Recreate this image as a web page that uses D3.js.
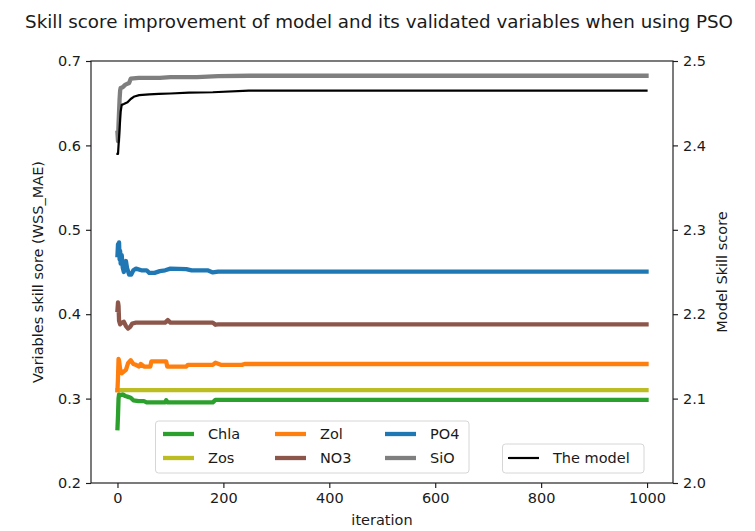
<!DOCTYPE html>
<html>
<head>
<meta charset="utf-8">
<script src="https://cdn.jsdelivr.net/npm/d3@7"></script>
<style>
  body { margin: 0; background: #fff; }
  text { font-family: "DejaVu Sans", sans-serif; fill: #1a1a1a; }
</style>
</head>
<body>
<svg id="chart" width="755" height="531"></svg>
<script>
// values: [iteration, score]
const chla = [[0,0.265],[1,0.28],[2,0.3],[3,0.305],[5,0.304],[10,0.305],[15,0.303],[20,0.302],[25,0.301],[30,0.298],[40,0.297],[50,0.297],[55,0.2955],[90,0.2955],[92,0.298],[95,0.2955],[180,0.2955],[185,0.2985],[999,0.2985]];
const zos = [[0,0.31],[999,0.31]];
const zol = [[0,0.31],[1,0.325],[2,0.347],[3,0.345],[5,0.335],[8,0.33],[12,0.332],[16,0.334],[20,0.342],[25,0.3455],[30,0.341],[35,0.34],[40,0.338],[44,0.341],[50,0.338],[62,0.338],[64,0.344],[92,0.344],[94,0.338],[130,0.338],[133,0.34],[180,0.34],[185,0.3425],[195,0.34],[235,0.34],[240,0.341],[999,0.341]];
const no3 = [[0,0.405],[1,0.414],[2,0.41],[3,0.392],[5,0.388],[8,0.39],[12,0.391],[16,0.386],[20,0.383],[24,0.385],[28,0.389],[35,0.39],[90,0.39],[95,0.393],[100,0.39],[180,0.39],[185,0.3875],[190,0.388],[999,0.388]];
const po4 = [[0,0.47],[1,0.483],[2,0.478],[3,0.485],[4,0.465],[5,0.475],[6,0.46],[8,0.47],[10,0.455],[12,0.45],[14,0.458],[16,0.463],[18,0.455],[22,0.447],[26,0.447],[30,0.452],[35,0.454],[45,0.452],[55,0.452],[60,0.449],[70,0.449],[80,0.451],[90,0.452],[100,0.454],[130,0.4535],[140,0.452],[170,0.452],[180,0.4495],[190,0.4505],[999,0.4505]];
const sio = [[0,0.615],[1,0.605],[2,0.625],[3,0.64],[4,0.655],[5,0.665],[6,0.668],[10,0.669],[15,0.672],[22,0.674],[25,0.679],[40,0.68],[80,0.68],[100,0.681],[150,0.681],[190,0.682],[250,0.6825],[999,0.6825]];
const model = [[0,2.39],[1,2.39],[3,2.41],[6,2.44],[8,2.448],[12,2.449],[19,2.451],[25,2.455],[32,2.458],[41,2.4595],[60,2.4605],[78,2.461],[100,2.4615],[135,2.4625],[180,2.463],[248,2.4648],[999,2.4648]];

const seriesNames = ["Chla", "Zos", "Zol", "NO3", "PO4", "SiO"];
const seriesData = [chla, zos, zol, no3, po4, sio];
const seriesColors = ["#2ca02c", "#bcbd22", "#ff7f0e", "#8c564b", "#1f77b4", "#7f7f7f"];

const xTicks = [0, 200, 400, 600, 800, 1000];
const leftTicks = [0.2, 0.3, 0.4, 0.5, 0.6, 0.7];
const rightTicks = [2.0, 2.1, 2.2, 2.3, 2.4, 2.5];

// layout
const plot = {left: 91, right: 673, top: 61, bottom: 483};
const svg = d3.select("#chart");

const x = d3.scaleLinear().domain([-50, 1049]).range([plot.left, plot.right]);
const y = d3.scaleLinear().domain([0.2, 0.7]).range([plot.bottom, plot.top]);
const y2 = d3.scaleLinear().domain([2.0, 2.5]).range([plot.bottom, plot.top]);

// title
svg.append("text")
  .attr("x", 379)
  .attr("y", 28)
  .attr("text-anchor", "middle")
  .style("font-size", "18.3px")
  .text("Skill score improvement of model and its validated variables when using PSO");

// variable lines
const line = d3.line().x(d => x(d[0])).y(d => y(d[1]));
seriesData.forEach((s, i) => {
  svg.append("path")
    .datum(s)
    .attr("d", line)
    .attr("fill", "none")
    .attr("stroke", seriesColors[i])
    .attr("stroke-width", 4.3)
    .attr("stroke-linejoin", "round")
    .attr("stroke-linecap", "square");
});

// axes
function styleAxis(g) {
  g.selectAll("path.domain").remove();
  g.selectAll(".tick line").attr("stroke", "#1a1a1a").attr("stroke-width", 1.15);
  g.selectAll(".tick text").style("font-size", "14.5px").attr("fill", "#1a1a1a");
}
svg.append("g")
  .attr("transform", `translate(0,${plot.bottom})`)
  .call(d3.axisBottom(x).tickValues(xTicks).tickSize(5).tickPadding(5).tickFormat(d3.format("d")))
  .call(styleAxis);
svg.append("g")
  .attr("transform", `translate(${plot.left},0)`)
  .call(d3.axisLeft(y).tickValues(leftTicks).tickSize(5).tickPadding(5).tickFormat(d3.format(".1f")))
  .call(styleAxis);
svg.append("g")
  .attr("transform", `translate(${plot.right},0)`)
  .call(d3.axisRight(y2).tickValues(rightTicks).tickSize(5).tickPadding(5).tickFormat(d3.format(".1f")))
  .call(styleAxis);

// axis labels
const midY = (plot.top + plot.bottom) / 2;
svg.append("text")
  .attr("x", (plot.left + plot.right) / 2)
  .attr("y", 525)
  .attr("text-anchor", "middle")
  .style("font-size", "14.5px")
  .text("iteration");
svg.append("text")
  .attr("transform", `translate(43,${midY}) rotate(-90)`)
  .attr("text-anchor", "middle")
  .style("font-size", "14.5px")
  .text("Variables skill sore (WSS_MAE)");
svg.append("text")
  .attr("transform", `translate(727,${midY}) rotate(-90)`)
  .attr("text-anchor", "middle")
  .style("font-size", "14.5px")
  .text("Model Skill score");

// legend for variables (3 columns)
const leg = svg.append("g");
leg.append("rect")
  .attr("x", 155.5).attr("y", 421).attr("width", 313.5).attr("height", 52)
  .attr("rx", 3)
  .attr("fill", "#fff").attr("fill-opacity", 0.8)
  .attr("stroke", "#d6d6d6");
const colX = [161, 273, 383];
const rowY = [434, 458];
seriesNames.forEach((name, i) => {
  const cx = colX[Math.floor(i / 2)], cy = rowY[i % 2];
  leg.append("line")
    .attr("x1", cx + 2).attr("x2", cx + 33)
    .attr("y1", cy).attr("y2", cy)
    .attr("stroke", seriesColors[i]).attr("stroke-width", 4.3);
  leg.append("text")
    .attr("x", cx + 47).attr("y", cy)
    .attr("dy", "0.36em")
    .style("font-size", "14.5px")
    .text(name);
});

// model line on twin axis
const line2 = d3.line().x(d => x(d[0])).y(d => y2(d[1]));
svg.append("path")
  .datum(model)
  .attr("d", line2)
  .attr("fill", "none")
  .attr("stroke", "#000")
  .attr("stroke-width", 2.2)
  .attr("stroke-linejoin", "round")
  .attr("stroke-linecap", "square");

// frame
svg.append("rect")
  .attr("x", plot.left).attr("y", plot.top)
  .attr("width", plot.right - plot.left).attr("height", plot.bottom - plot.top)
  .attr("fill", "none")
  .attr("stroke", "#1a1a1a")
  .attr("stroke-width", 1.15);

// model legend
const leg2 = svg.append("g");
leg2.append("rect")
  .attr("x", 502.5).attr("y", 444).attr("width", 141.5).attr("height", 29)
  .attr("rx", 3)
  .attr("fill", "#fff").attr("fill-opacity", 0.8)
  .attr("stroke", "#d6d6d6");
leg2.append("line")
  .attr("x1", 508).attr("x2", 539)
  .attr("y1", 458).attr("y2", 458)
  .attr("stroke", "#000").attr("stroke-width", 2.2);
leg2.append("text")
  .attr("x", 553).attr("y", 458)
  .attr("dy", "0.36em")
  .style("font-size", "14.5px")
  .text("The model");
</script>
</body>
</html>
